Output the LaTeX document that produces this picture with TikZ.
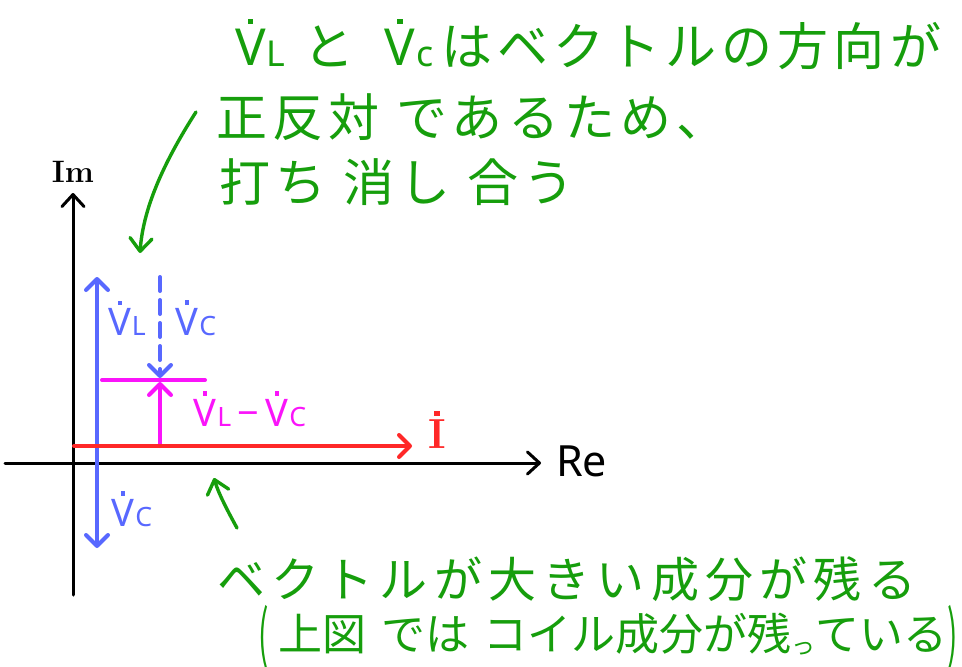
\documentclass[tikz,border=0pt]{standalone}
\usepackage{fontspec}
\usepackage{graphicx}
\setmainfont{Noto Sans CJK JP}
\newfontfamily\jpa[LetterSpace=10]{Noto Sans CJK JP}
\newfontfamily\jpb[LetterSpace=13]{Noto Sans CJK JP}
\newfontfamily\jpc[LetterSpace=0]{Noto Sans CJK JP}
\newfontfamily\lat{Noto Sans}
\newfontfamily\lmr{Latin Modern Roman}
\usetikzlibrary{arrows.meta}
\definecolor{vblue}{RGB}{88,104,255}
\definecolor{vmag}{RGB}{250,20,250}
\definecolor{vred}{RGB}{255,40,40}
\definecolor{vgreen}{RGB}{22,158,12}
\newcommand\dotmark{\smash{\raisebox{0.8em}{\rule{0.11em}{0.11em}}}}
\newcommand\VV[1]{{\ooalign{V\cr\hidewidth\dotmark\hidewidth\cr}\kern0.02em\raisebox{-0.02em}{\scalebox{0.7}{#1}}}}
\tikzset{
  axisline/.style={line width=3pt, line cap=round, black, -{Straight Barb[round,length=12pt,width=22pt]}},
  vec/.style={line width=4pt, line cap=round, -{Straight Barb[round,length=11pt,width=22pt]}},
  plainline/.style={line width=4pt, line cap=round},
  note/.style={vgreen, line width=3.4pt, line cap=round, -{Straight Barb[round,length=13pt,width=22pt]}},
  lbl/.style={inner sep=0pt, font=\lat\fontsize{38}{38}\selectfont},
  jtext/.style={inner sep=0pt, anchor=base west, vgreen}
}
\begin{document}
\begin{tikzpicture}[x=1pt,y=-1pt]
\useasboundingbox (0,0) rectangle (962,667);
\fill[white] (0,0) rectangle (962,667);
% axes
\coordinate (imbot) at (73,595);
\coordinate (imtop) at (73,193);
\coordinate (reL) at (5,463);
\coordinate (reR) at (541,463);
\draw[axisline] (imbot) -- (imtop);
\draw[axisline] (reL) -- (reR);
\node[inner sep=0pt, font=\lmr\bfseries\fontsize{31}{31}\selectfont] (Im) at (73,172) {Im};
\node[inner sep=0pt, anchor=west, font=\lat\fontsize{43}{43}\selectfont] (Re) at (556,461) {Re};
% blue vectors
\coordinate (bO) at (97,463);
\coordinate (bL) at (97,277);
\coordinate (bC) at (97,548);
\draw[vec, vblue] (bO) -- (bL);
\draw[vec, vblue] (bO) -- (bC);
\coordinate (dTop) at (160,277);
\coordinate (dTip) at (160,378);
\draw[vec, vblue, dash pattern=on 14pt off 9pt] (dTop) -- (dTip);
% magenta
\coordinate (mL) at (102,380);
\coordinate (mR) at (205,380);
\draw[plainline, vmag] (mL) -- (mR);
\coordinate (mB) at (160,446);
\coordinate (mT) at (160,382);
\draw[vec, vmag] (mB) -- (mT);
% red
\coordinate (rL) at (74,446);
\coordinate (rR) at (412,446);
\draw[vec, vred] (rL) -- (rR);
% labels
\node[lbl, vblue] (lVL) at (127,322) {\VV{L}};
\node[lbl, vblue] (lVC) at (196,322) {\VV{C}};
\node[lbl, vblue] (lVC2) at (132,513) {\VV{C}};
\node[lbl, vmag] (lVLC) at (250,413) {\VV{L}\,−\,\VV{C}};
\node[inner sep=0pt, vred, font=\lmr\bfseries\fontsize{42}{42}\selectfont] (lI) at (437,434) {\ooalign{I\cr\hidewidth\smash{\raisebox{0.78em}{\rule{0.12em}{0.12em}}}\hidewidth\cr}};
% green text
\node[jtext, font=\jpa\fontsize{51}{51}\selectfont] (t1) at (235,65) {{\lat\VV{L}}\hspace{18pt}と\hspace{30pt}{\lat\VV{c}}\hspace{8pt}はベクトルの方向が};
\node[jtext, font=\jpa\fontsize{51}{51}\selectfont] (t2) at (216,136) {正反対\,\,であるため、};
\node[jtext, font=\jpa\fontsize{51}{51}\selectfont] (t3) at (219,201) {打ち\,\,消し\,\,合う};
\node[jtext, font=\jpb\fontsize{48}{48}\selectfont] (b1) at (217,597) {ベクトルが大きい成分が残る};
\node[jtext, font=\jpc\fontsize{44}{44}\selectfont] (b2) at (258,650) {\raisebox{-0.16em}{\scalebox{0.7}[1.45]{(}}\hspace{10pt}上図\,\,では\,\,コイル成分が残{\fontsize{24}{24}\selectfont\raisebox{-0.2em}{っ}}ている\raisebox{-0.16em}{\scalebox{0.7}[1.45]{)}}};
% green arrows
\coordinate (a1s) at (196,112);
\coordinate (a1e) at (140,253);
\draw[note] (a1s) .. controls (162,165) and (143,210) .. (a1e);
\coordinate (a2s) at (237,528);
\coordinate (a2e) at (214,478);
\draw[note] (a2s) .. controls (226,508) and (218,492) .. (a2e);
\end{tikzpicture}
\end{document}
